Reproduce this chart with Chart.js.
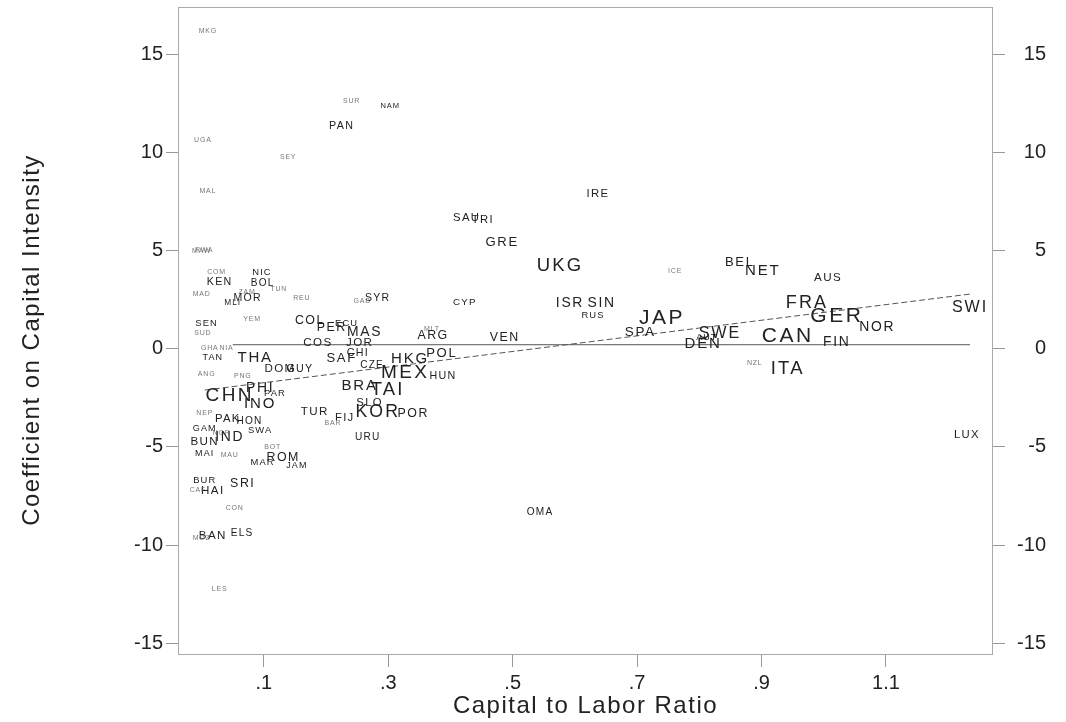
<!DOCTYPE html>
<html>
<head>
<meta charset="utf-8">
<script src="https://cdn.jsdelivr.net/npm/chart.js@4.4.0/dist/chart.umd.min.js"></script>
<style>
  html, body { margin: 0; background: #fff; }
</style>
</head>
<body>
<canvas id="chart" width="1066" height="722"></canvas>
<script>
// Country codes, capital/labor ratio (x), coefficient on capital intensity (y),
// and the weight each label is drawn with
const codes = ['MKG','SUR','NAM','PAN','UGA','SEY','MAL','IRE','SAU','TRI','GRE','MAW','RWA','BEL','UKG','NET','ICE','COM','NIC','AUS',
  'KEN','BOL','TUN','ZAM','MAD','REU','MOR','SYR','GAB','MLI','CYP','FRA','ISR','SIN','SWI','RUS','GER','YEM','JAP','COL',
  'SEN','ECU','PER','NOR','MLT','SUD','MAS','SPA','SWE','ARG','CAN','VEN','AUT','COS','JOR','FIN','DEN','GHA','NIA','POL',
  'CHI','TAN','THA','SAF','HKG','NZL','CZE','DOM','GUY','ITA','MEX','ANG','PNG','HUN','BRA','PHI','TAI','PAR','CHN','SLO',
  'INO','KOR','TUR','POR','FIJ','PAK','HON','NEP','BAR','GAM','SWA','NGR','URU','IND','LUX','BUN','BOT','MAI','MAU','ROM',
  'MAR','JAM','BUR','SRI','HAI','CAF','CON','OMA','BAN','MOZ','ELS','LES'];
const capLabor = [0.010,0.241,0.303,0.225,0.002,0.139,0.010,0.637,0.426,0.452,0.483,0.000,0.004,0.865,0.576,0.902,0.761,0.024,0.097,1.007,
  0.029,0.098,0.124,0.073,0.000,0.161,0.074,0.283,0.258,0.050,0.423,0.973,0.592,0.643,1.235,0.629,1.021,0.081,0.740,0.174,
  0.008,0.233,0.209,1.086,0.370,0.002,0.262,0.705,0.833,0.372,0.942,0.487,0.812,0.187,0.254,1.021,0.806,0.013,0.040,0.386,
  0.251,0.018,0.086,0.225,0.335,0.889,0.274,0.126,0.158,0.942,0.327,0.008,0.066,0.388,0.254,0.094,0.299,0.118,0.045,0.270,
  0.094,0.283,0.182,0.340,0.230,0.042,0.077,0.005,0.211,0.005,0.094,0.032,0.267,0.045,1.230,0.005,0.114,0.005,0.045,0.131,
  0.098,0.153,0.005,0.066,0.018,-0.006,0.053,0.544,0.018,0.000,0.065,0.029];
const coef = [16.15,12.63,12.38,11.36,10.60,9.78,8.05,7.90,6.67,6.57,5.40,4.99,5.04,4.38,4.23,3.97,3.97,3.92,3.87,3.62,
  3.41,3.31,3.06,2.90,2.80,2.60,2.55,2.60,2.45,2.34,2.34,2.34,2.34,2.34,2.09,1.68,1.63,1.53,1.53,1.43,
  1.27,1.27,1.07,1.07,1.02,0.82,0.82,0.82,0.76,0.66,0.61,0.56,0.56,0.31,0.31,0.31,0.25,0.05,0.05,-0.25,
  -0.20,-0.46,-0.46,-0.51,-0.51,-0.71,-0.82,-1.02,-1.02,-1.02,-1.22,-1.27,-1.38,-1.38,-1.88,-1.99,-2.09,-2.29,-2.39,-2.75,
  -2.80,-3.21,-3.21,-3.31,-3.52,-3.57,-3.67,-3.26,-3.77,-4.08,-4.18,-4.28,-4.53,-4.53,-4.38,-4.74,-4.99,-5.35,-5.40,-5.55,
  -5.81,-5.96,-6.72,-6.88,-7.23,-7.18,-8.10,-8.35,-9.53,-9.63,-9.42,-12.23];
const weight = [0.7,0.7,1.0,3.1,0.7,0.7,0.7,3.5,3.5,3.5,4.7,0.7,0.7,4.7,8.3,6.0,0.7,0.7,2.3,3.7,
  3.1,2.7,0.7,0.7,0.7,0.7,3.0,3.0,0.7,1.5,2.5,8.0,5.3,5.3,6.7,2.3,10,0.7,10,4.3,
  2.3,2.3,4.3,5.3,0.7,0.7,5.3,5.0,6.7,4.3,10,4.3,2.0,3.7,3.7,5.3,6.0,0.7,0.7,4.7,
  3.1,2.0,6.0,4.7,6.0,0.7,2.7,3.7,3.1,8.3,8.7,0.7,0.7,3.1,6.0,5.3,8.3,2.3,8.7,3.5,
  6.0,7.8,3.7,4.3,3.5,3.5,2.7,0.7,0.7,2.0,2.3,0.7,2.7,5.3,3.5,3.7,0.7,2.0,0.7,4.3,
  2.3,2.0,2.3,4.3,3.7,0.7,0.7,2.7,3.7,0.7,2.7,0.7];

// fitted line and flat reference line (end points)
const fitX = [0.005, 1.235];
const fitY = [-2.11, 2.78];
const refX = [0.05, 1.235];
const refY = [0.2, 0.2];

const xTicks = [0.1, 0.3, 0.5, 0.7, 0.9, 1.1];
const yTicks = [-15, -10, -5, 0, 5, 10, 15];

const xTitle = 'Capital to Labor Ratio';
const yTitle = 'Coefficient on Capital Intensity';

const FONT = '"Liberation Sans", Arial, Helvetica, sans-serif';
Chart.defaults.font.family = FONT;

// draws each country code at its point
const labelPlugin = {
  id: 'countryLabels',
  afterDatasetsDraw(chart) {
    const meta = chart.getDatasetMeta(0);
    const ctx = chart.ctx;
    ctx.save();
    ctx.textAlign = 'center';
    ctx.textBaseline = 'middle';
    meta.data.forEach((pt, i) => {
      const size = 6 + 1.5 * weight[i];
      ctx.font = size.toFixed(1) + 'px ' + FONT;
      ctx.letterSpacing = (size * 0.12).toFixed(1) + 'px';
      ctx.fillStyle = weight[i] < 1 ? '#777' : '#222';
      ctx.fillText(codes[i], pt.x, pt.y);
    });
    ctx.restore();
  }
};

// plot frame and the two axis titles (slightly spaced lettering)
const framePlugin = {
  id: 'frame',
  beforeDatasetsDraw(chart) {
    const a = chart.chartArea;
    const ctx = chart.ctx;
    ctx.save();
    ctx.strokeStyle = '#aaa';
    ctx.lineWidth = 1;
    ctx.strokeRect(Math.round(a.left) + 0.5, Math.round(a.top) + 0.5,
      Math.round(a.right - a.left) - 1, Math.round(a.bottom - a.top) - 1);
    ctx.restore();
  },
  afterDraw(chart) {
    const a = chart.chartArea;
    const ctx = chart.ctx;
    ctx.save();
    ctx.fillStyle = '#222';
    ctx.font = '24px ' + FONT;
    ctx.letterSpacing = '1.5px';
    ctx.textAlign = 'center';
    ctx.textBaseline = 'middle';
    ctx.fillText(xTitle, (a.left + a.right) / 2, 706);
    ctx.translate(32, 340);
    ctx.rotate(-Math.PI / 2);
    ctx.fillText(yTitle, 0, 0);
    ctx.restore();
  }
};

const tickStyle = { color: '#222', font: { size: 20, family: FONT } };

new Chart(document.getElementById('chart'), {
  type: 'scatter',
  data: {
    datasets: [
      {
        data: codes.map((c, i) => ({ x: capLabor[i], y: coef[i] })),
        pointRadius: 0,
        pointHoverRadius: 0
      },
      {
        data: refX.map((x, i) => ({ x: x, y: refY[i] })),
        showLine: true,
        borderColor: '#555',
        borderWidth: 1,
        pointRadius: 0
      },
      {
        data: fitX.map((x, i) => ({ x: x, y: fitY[i] })),
        showLine: true,
        borderColor: '#555',
        borderWidth: 1,
        borderDash: [6, 3],
        pointRadius: 0
      }
    ]
  },
  options: {
    responsive: false,
    animation: false,
    layout: { padding: { top: 7, left: 0, right: 20, bottom: 0 } },
    plugins: {
      legend: { display: false },
      tooltip: { enabled: false }
    },
    scales: {
      x: {
        type: 'linear',
        min: -0.038,
        max: 1.272,
        afterBuildTicks: s => { s.ticks = xTicks.map(v => ({ value: v })); },
        afterFit: s => { s.height = 67; s.paddingLeft = 0; s.paddingRight = 0; },
        border: { display: false },
        grid: { drawOnChartArea: false, tickLength: 12, tickColor: '#999' },
        ticks: {
          ...tickStyle,
          padding: 4,
          maxRotation: 0,
          autoSkip: false,
          callback: v => v.toFixed(1).replace(/^0/, '')
        }
      },
      y: {
        type: 'linear',
        position: 'left',
        min: -15.6,
        max: 17.4,
        afterBuildTicks: s => { s.ticks = yTicks.map(v => ({ value: v })); },
        afterFit: s => { s.width = 178; s.paddingTop = 0; s.paddingBottom = 0; },
        border: { display: false },
        grid: { drawOnChartArea: false, tickLength: 12, tickColor: '#999' },
        ticks: { ...tickStyle, padding: 3 }
      },
      y2: {
        type: 'linear',
        position: 'right',
        min: -15.6,
        max: 17.4,
        afterBuildTicks: s => { s.ticks = yTicks.map(v => ({ value: v })); },
        afterFit: s => { s.width = 53; s.paddingTop = 0; s.paddingBottom = 0; },
        border: { display: false },
        grid: { drawOnChartArea: false, tickLength: 12, tickColor: '#999' },
        ticks: { ...tickStyle, padding: 8, crossAlign: 'far' }
      }
    }
  },
  plugins: [framePlugin, labelPlugin]
});
</script>
</body>
</html>
